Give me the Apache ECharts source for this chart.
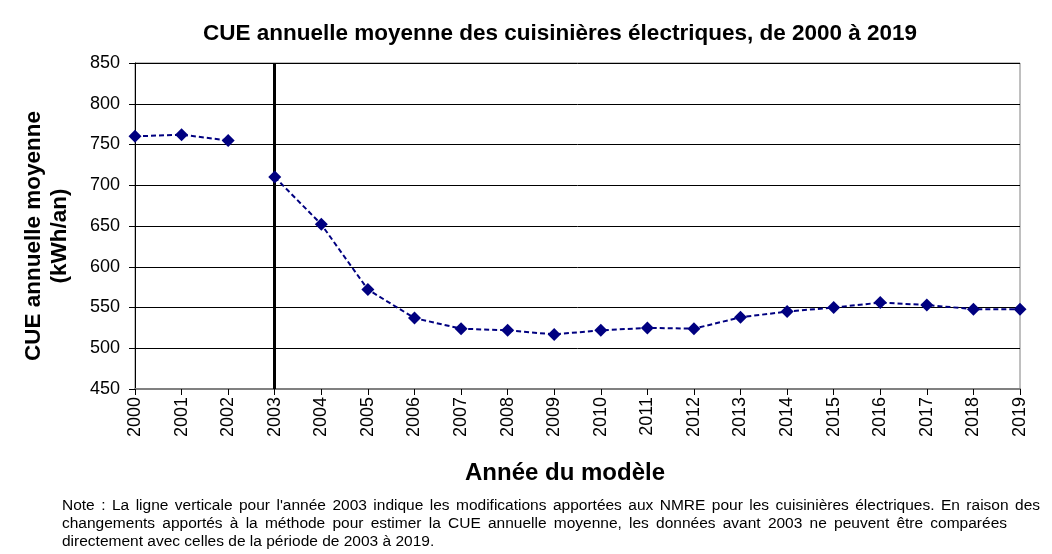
<!DOCTYPE html>
<html>
<head>
<meta charset="utf-8">
<script src="https://cdn.jsdelivr.net/npm/echarts@6/dist/echarts.min.js"></script>
<style>
  html, body { margin: 0; padding: 0; background: #fff; }
  #chart { width: 1052px; height: 554px; }
</style>
</head>
<body>
<div id="chart"></div>
<script>
// categories and values
var years = ['2000', '2001', '2002', '2003', '2004', '2005', '2006', '2007', '2008', '2009',
             '2010', '2011', '2012', '2013', '2014', '2015', '2016', '2017', '2018', '2019'];
// before the 2003 NMRE change (not connected to the rest)
var cueBefore = [760, 762, 755, '-', '-', '-', '-', '-', '-', '-',
                 '-', '-', '-', '-', '-', '-', '-', '-', '-', '-'];
// 2003 onward
var cueAfter = ['-', '-', '-', 710, 652, 572, 537, 524, 522, 517,
                522, 525, 524, 538, 545, 550, 556, 553, 548, 548];
var yTicks = { min: 450, max: 850, step: 50 };
var changeYear = '2003';

var titleText = 'CUE annuelle moyenne des cuisinières électriques, de 2000 à 2019';
var yName = 'CUE annuelle moyenne\n(kWh/an)';
var xName = 'Année du modèle';
var noteLines = [
  "Note : La ligne verticale pour l'année 2003 indique les modifications apportées aux NMRE  pour les cuisinières électriques. En raison des",
  "changements  apportés à la méthode pour estimer la CUE annuelle moyenne, les données avant 2003 ne peuvent être comparées",
  "directement avec celles de la période de 2003 à 2019."
];
// right edge of each note line (null = natural width)
var noteRight = [1040, 1007, null];

var font = '"Liberation Sans", Arial, sans-serif';
var noteFont = '15.5px ' + font;

// note text, stretched word by word like the justified source box
var ctx = document.createElement('canvas').getContext('2d');
ctx.font = noteFont;
var noteGraphics = [];
noteLines.forEach(function(line, i) {
  var y = 498 + i * 18;
  if (noteRight[i]) {
    var words = line.split(/\s+/);
    var total = 0;
    words.forEach(function(w) { total += ctx.measureText(w).width; });
    var gap = (noteRight[i] - 62 - total) / (words.length - 1);
    var x = 62;
    words.forEach(function(w) {
      noteGraphics.push({ type: 'text', x: x, y: y, style: { text: w, font: noteFont, fill: '#000' } });
      x += ctx.measureText(w).width + gap;
    });
  } else {
    noteGraphics.push({ type: 'text', x: 62, y: y, style: { text: line, font: noteFont, fill: '#000' } });
  }
});

var chart = echarts.init(document.getElementById('chart'));

var lineSeries = function(data) {
  return {
    type: 'line',
    data: data,
    symbol: 'diamond',
    symbolSize: 13,
    connectNulls: false,
    lineStyle: { color: '#000080', width: 2, type: [5, 3] },
    itemStyle: { color: '#000080' },
    z: 3
  };
};

var after = lineSeries(cueAfter);
after.markLine = {
  silent: true,
  symbol: ['none', 'none'],
  label: { show: false },
  lineStyle: { color: '#000', width: 3, type: 'solid' },
  data: [{ xAxis: changeYear }],
  z: 2
};

chart.setOption({
  backgroundColor: '#fff',
  animation: false,
  textStyle: { fontFamily: font },
  title: {
    text: titleText,
    left: 555,
    top: 17,
    textAlign: 'center',
    textStyle: { fontFamily: font, fontSize: 22.5, fontWeight: 'bold', color: '#000' }
  },
  grid: {
    left: 135, right: 32, top: 63, bottom: 165,
    show: true, borderColor: '#808080', borderWidth: 1
  },
  xAxis: {
    type: 'category',
    data: years,
    boundaryGap: false,
    axisLine: { lineStyle: { color: '#808080', width: 2 } },
    axisTick: { show: true, length: 6, alignWithLabel: true, lineStyle: { color: '#000' } },
    axisLabel: { rotate: 90, fontSize: 18, color: '#000', margin: 8, fontFamily: font },
    splitLine: { show: false }
  },
  yAxis: {
    type: 'value',
    min: yTicks.min,
    max: yTicks.max,
    interval: yTicks.step,
    axisLine: { show: true, lineStyle: { color: '#000', width: 1 } },
    axisTick: { show: true, length: 6, lineStyle: { color: '#000' } },
    axisLabel: { fontSize: 18, color: '#000', margin: 15, fontFamily: font },
    splitLine: { show: true, lineStyle: { color: '#000', width: 1 } }
  },
  graphic: [
    {
      type: 'text',
      x: 47, y: 236,
      rotation: Math.PI / 2,
      style: {
        text: yName,
        font: 'bold 22.5px ' + font,
        fill: '#000',
        align: 'center',
        verticalAlign: 'middle',
        lineHeight: 26
      }
    },
    {
      type: 'text',
      x: 565, y: 473,
      style: {
        text: xName,
        font: 'bold 24px ' + font,
        fill: '#000',
        align: 'center',
        verticalAlign: 'middle'
      }
    }
  ].concat(noteGraphics),
  series: [lineSeries(cueBefore), after]
});
</script>
</body>
</html>
